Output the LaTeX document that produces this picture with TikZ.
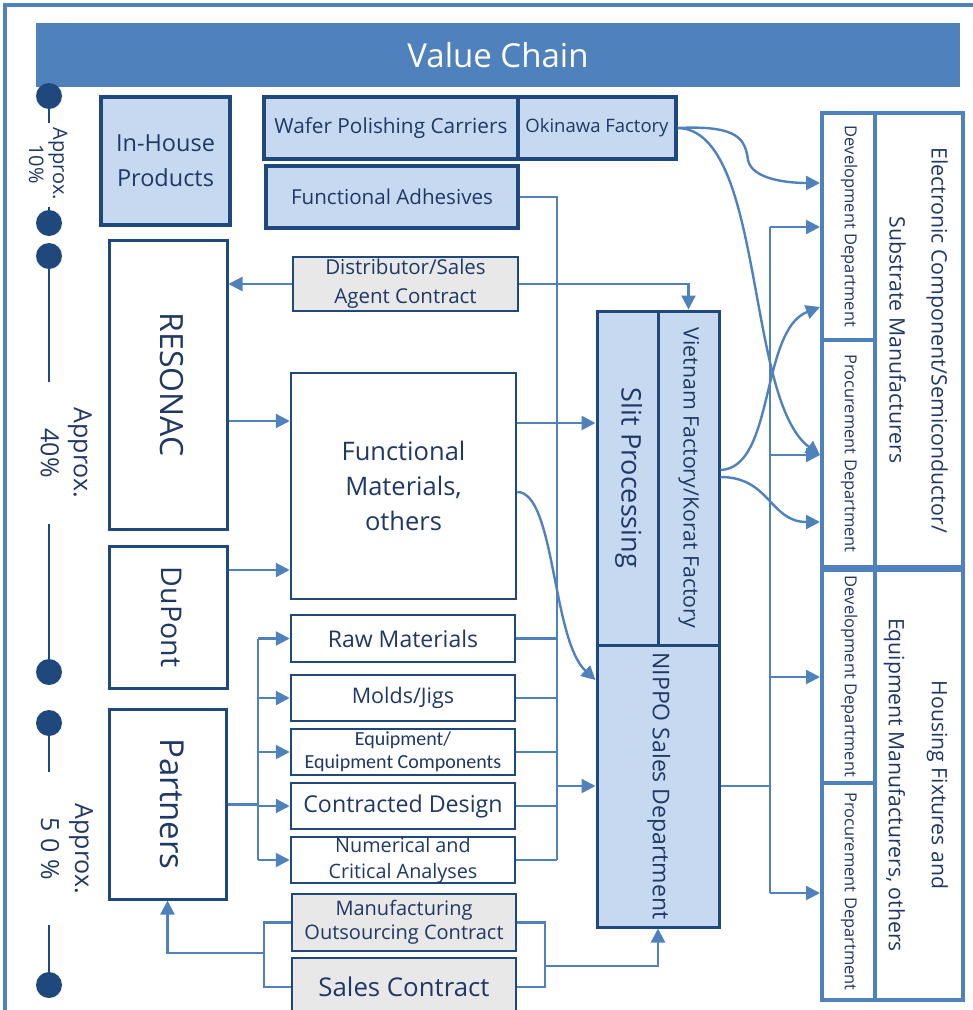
\documentclass[tikz,border=0pt]{standalone}
\usepackage{fontspec}
\usepackage{graphicx}
\setmainfont{Open Sans}
\newfontfamily\carl{Carlito}
\usetikzlibrary{arrows.meta}
\definecolor{dkb}{HTML}{1F497D}
\definecolor{mdb}{HTML}{4F81BD}
\definecolor{ltb}{HTML}{C6D9F1}
\definecolor{gry}{HTML}{E8E8E8}
\definecolor{txt}{HTML}{1F3864}
\newcommand\fsz[2]{\fontsize{#1}{#2}\selectfont}
\newcommand\rt[1]{\rotatebox{-90}{\begin{tabular}{@{}c@{}}#1\end{tabular}}}
\newcommand\mybox[7]{\node[#1, minimum width={#5-#3}, minimum height={#6-#4}] (#2) at ({(#3+#5)/2},{(#4+#6)/2}) {#7};}
\begin{document}
\begin{tikzpicture}[x=1pt,y=-1pt,
  bx/.style={draw=dkb, line width=3pt, fill=ltb, text=txt, inner sep=0pt, align=center},
  wbx/.style={draw=dkb, line width=2.5pt, fill=white, text=txt, inner sep=0pt, align=center},
  gbx/.style={draw=dkb, line width=2pt, fill=gry, text=txt, inner sep=0pt, align=center},
  cbx/.style={draw=mdb, line width=4pt, fill=white, text=txt, inner sep=0pt, align=center},
  conn/.style={draw=mdb, line width=2.4pt},
  arr/.style={conn, -{Triangle[length=14pt,width=14pt]}},
  dot/.style={circle, fill=dkb, minimum size=26pt, inner sep=0pt},
  tl/.style={draw=dkb, line width=2.5pt},
  pct/.style={text=txt, inner sep=0pt}]
\useasboundingbox (0,0) rectangle (973,1010);
\clip (0,0) rectangle (973,1010);
\draw[mdb, line width=4pt] (5,5) rectangle (995,1040);
% title
\node[fill=mdb, minimum width=924, minimum height=64, inner sep=0pt, text=white, font=\fsz{33}{38}] (title) at (498,55) {Value Chain};
% timeline
\node[dot] (d1) at (49,96) {};
\node[dot] (d2) at (49,223) {};
\node[dot] (d3) at (49,256) {};
\node[dot] (d4) at (49,672) {};
\node[dot] (d5) at (49,723) {};
\node[dot] (d6) at (49,985) {};
\coordinate (t1) at (49,123); \coordinate (t2) at (49,207);
\coordinate (t3) at (49,382); \coordinate (t4) at (49,524);
\coordinate (t5) at (49,772); \coordinate (t6) at (49,925);
\draw[tl] (d1) -- (t1); \draw[tl] (t2) -- (d2);
\draw[tl] (d3) -- (t3); \draw[tl] (t4) -- (d4);
\draw[tl] (d5) -- (t5); \draw[tl] (t6) -- (d6);
\node[pct, font=\fsz{20}{24}] (p10) at (46,164) {\rt{Approx.\\10\%}};
\node[pct, font=\fsz{25}{33}] (p40) at (64,453) {\rt{Approx.\\40\%}};
\node[pct, font=\fsz{25}{34}] (p50) at (65,849) {\rt{Approx.\\5 0 \%}};
% top boxes
\mybox{bx, line width=3.5pt, font=\fsz{23.5}{35}}{inhouse}{101}{97}{230}{225}{In-House\\Products}
\mybox{bx, line width=3.5pt, font=\fsz{20.8}{24}}{wafer}{264}{97}{518}{159}{Wafer Polishing Carriers}
\mybox{bx, line width=3.5pt, font=\fsz{18.5}{22}}{okinawa}{518}{97}{676}{159}{Okinawa Factory}
\mybox{bx, line width=3.5pt, font=\fsz{20.6}{24}}{adhes}{266}{166}{518}{228}{Functional Adhesives}
\mybox{gbx, font=\fsz{20.5}{29}}{dist}{293}{257}{518}{311}{Distributor/Sales\\Agent Contract}
% suppliers
\mybox{wbx, line width=3pt, font=\fsz{32}{36}}{resonac}{109}{240}{227}{529}{\rt{RESONAC}}
\mybox{wbx, line width=3pt, font=\fsz{28.5}{32}}{dupont}{109}{546}{227}{688}{\rt{DuPont}}
\mybox{wbx, line width=3pt, font=\fsz{33}{36}}{partners}{109}{709}{226}{899}{\rt{Partners}}
% middle
\mybox{wbx, font=\fsz{25.5}{35}}{fm}{291}{373}{516}{599}{Functional\\Materials,\\others}
\mybox{wbx, font=\fsz{23}{26}}{raw}{291}{615}{515}{662}{Raw Materials}
\mybox{wbx, font=\fsz{21.5}{24}}{molds}{291}{675}{515}{721}{Molds/Jigs}
\mybox{wbx, font=\carl\fsz{20}{23}}{equip}{291}{729}{515}{775}{Equipment/\\Equipment Components}
\mybox{wbx, font=\fsz{23.2}{26}}{design}{291}{783}{515}{829}{Contracted Design}
\mybox{wbx, font=\fsz{19.8}{26}}{numer}{291}{837}{515}{883}{Numerical and\\Critical Analyses}
\mybox{gbx, font=\fsz{20}{24}}{mfg}{292}{894}{516}{951}{Manufacturing\\Outsourcing Contract}
\mybox{gbx, font=\fsz{25.8}{28}}{sales}{292}{958}{516}{1016}{Sales Contract}
% processing
\mybox{bx, font=\fsz{27}{30}}{slit}{597}{311}{658}{645}{\rt{Slit Processing}}
\mybox{bx, font=\fsz{21.3}{24}}{viet}{658}{311}{719}{645}{\rt{Vietnam Factory/Korat Factory}}
\mybox{bx, font=\fsz{23}{26}}{nippo}{597}{645}{719}{927}{\rt{NIPPO Sales Department}}
% customers
\mybox{cbx, font=\fsz{16.5}{18}}{ecdev}{822}{113}{875}{340}{\rt{Development Department}}
\mybox{cbx, font=\fsz{16.5}{18}}{ecproc}{822}{340}{875}{567}{\rt{Procurement Department}}
\mybox{cbx, font=\fsz{21.3}{42}}{ecname}{875}{113}{963}{567}{\rt{Electronic Component/Semiconductor/\\Substrate Manufacturers}}
\mybox{cbx, font=\fsz{16.5}{18}}{hdev}{822}{570}{875}{783}{\rt{Development Department}}
\mybox{cbx, font=\fsz{16.5}{18}}{hproc}{822}{783}{875}{1000}{\rt{Procurement Department}}
\mybox{cbx, font=\fsz{21.2}{43}}{hname}{875}{570}{963}{1000}{\rt{Housing Fixtures and\\Equipment Manufacturers, others}}
% helper coordinates
\coordinate (bL) at (258,0); \coordinate (bR) at (557,0); \coordinate (bC) at (770,0);
\coordinate (cL) at (264,0); \coordinate (cR) at (545,0);
\coordinate (yr) at (0,421); \coordinate (yd) at (0,570); \coordinate (ys) at (0,423);
\coordinate (yc1) at (0,492); \coordinate (yc2) at (0,680);
\coordinate (e1) at (0,183); \coordinate (e2) at (0,455); \coordinate (e3) at (0,307);
\coordinate (e4) at (0,522); \coordinate (e5) at (0,227); \coordinate (e7) at (0,677);
\coordinate (e8) at (0,893); \coordinate (v1) at (0,470); \coordinate (v2) at (0,477);
\coordinate (y953) at (0,953); \coordinate (y966) at (0,966);
% partners bus
\draw[conn, line width=3pt] (partners.east) -- (partners.east -| bL);
\draw[conn] (raw.west -| bL) -- (numer.west -| bL);
\foreach \n in {raw,molds,equip,design,numer}{\draw[arr] (\n.west -| bL) -- (\n.west);}
% right bus to NIPPO
\draw[conn] (adhes.east) -| (numer.east -| bR);
\foreach \n in {raw,molds,equip,design,numer}{\draw[conn] (\n.east) -- (\n.east -| bR);}
\draw[arr] (nippo.west -| bR) -- (nippo.west);
% distributor
\draw[arr] (dist.west) -- (dist.west -| resonac.east);
\draw[arr] (dist.east) -| (viet.north);
% suppliers to FM
\draw[arr] (resonac.east |- yr) -- (fm.west |- yr);
\draw[arr] (dupont.east |- yd) -- (fm.west |- yd);
\draw[arr] (fm.east |- ys) -- (slit.west |- ys);
\draw[arr] (fm.east |- yc1) .. controls (555,492) and (552,640) .. (nippo.west |- yc2);
% Okinawa to customers
\draw[arr] (okinawa.east) .. controls (740,125) and (745,140) .. (748,160) .. controls (752,180) and (790,183) .. (ecdev.west |- e1);
\draw[arr] (okinawa.east) .. controls (765,130) and (745,400) .. (ecproc.west |- e2);
% Vietnam to customers
\draw[arr] (viet.east |- v1) .. controls (775,468) and (760,330) .. (ecdev.west |- e3);
\draw[arr] (viet.east |- v2) .. controls (770,477) and (770,522) .. (ecproc.west |- e4);
% NIPPO to customers
\draw[conn] (nippo.east) -- (nippo.east -| bC);
\draw[conn] (bC |- e5) -- (bC |- e8);
\draw[arr] (bC |- e5) -- (ecdev.west |- e5);
\draw[arr] (bC |- e2) -- (ecproc.west |- e2);
\draw[arr] (bC |- e7) -- (hdev.west |- e7);
\draw[arr] (bC |- e8) -- (hproc.west |- e8);
% contracts
\draw[conn] (mfg.west) -| (cL |- sales.west) -- (sales.west);
\draw[arr] (cL |- y953) -| (partners.south);
\draw[conn] (mfg.east) -| (cR |- sales.east) -- (sales.east);
\draw[arr] (cR |- y966) -| (nippo.south);
\end{tikzpicture}
\end{document}
